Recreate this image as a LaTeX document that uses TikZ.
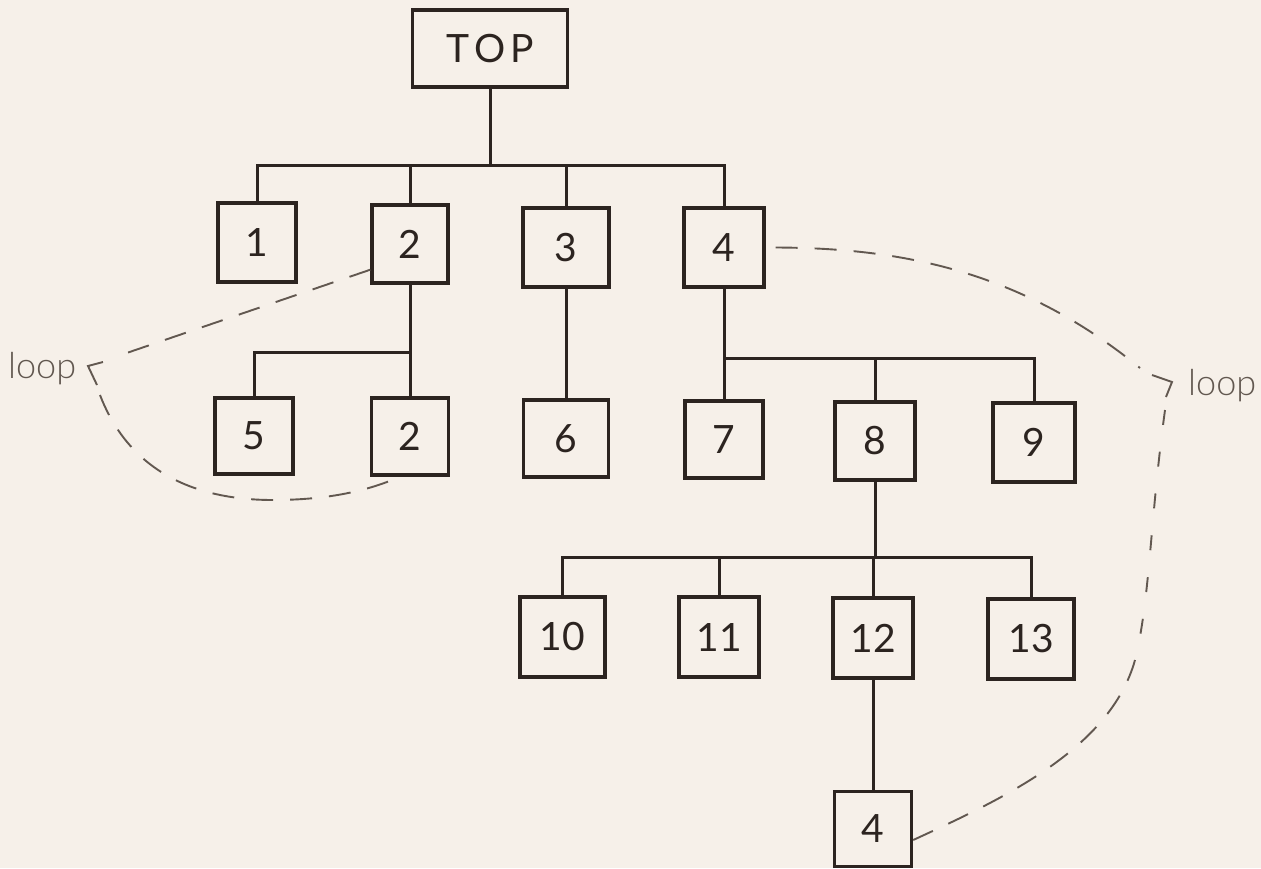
\documentclass[tikz,border=0pt]{standalone}
\usepackage{fontspec}
\newfontfamily\handfont{Lato}
\newfontfamily\thinfont{Lato Light}
\usetikzlibrary{calc}
\definecolor{paper}{RGB}{246,240,233}
\definecolor{ink}{RGB}{44,36,32}
\definecolor{pencil}{RGB}{98,88,80}
\begin{document}
\begin{tikzpicture}[x=1pt,y=-1pt,
  box/.style 2 args={draw=ink, line width=3.4pt, fill=paper, inner sep=0pt,
    minimum width=#1, minimum height=#2, text=ink,
    font=\handfont\fontsize{39}{42}\selectfont},
  tree/.style={draw=ink, line width=3pt},
  loopline/.style={draw=pencil, line width=1.9pt, dash pattern=on 22pt off 17pt},
  looptall/.style={draw=pencil, line width=1.9pt, dash pattern=on 15pt off 27pt},
  tick/.style={draw=pencil, line width=1.9pt},
  looplabel/.style={text=pencil, inner sep=0pt, font=\thinfont\fontsize{36}{40}\selectfont}]

\fill[paper] (0,0) rectangle (1261,868);
\useasboundingbox (0,0) rectangle (1261,868);

% root
\node[box={155pt}{77pt}] (top) at (490,48.5) {T\hspace{5pt}O\hspace{5pt}P};

% first level
\node[box={78pt}{79pt}] (n1) at (257,242.5) {1};
\node[box={76pt}{78pt}] (n2) at (410,244) {2};
\node[box={86pt}{79pt}] (n3) at (566,247.5) {3};
\node[box={80pt}{79pt}] (n4) at (724,247.5) {4};

% second level
\node[box={78pt}{76pt}] (n5) at (254,436) {5};
\node[box={77pt}{77pt}] (n2b) at (410,436.5) {2};
\node[box={85pt}{77pt}] (n6) at (566,438.5) {6};
\node[box={78pt}{77pt}] (n7) at (724,439.5) {7};
\node[box={80pt}{78pt}] (n8) at (875,441) {8};
\node[box={82pt}{79pt}] (n9) at (1034,442.5) {9};

% third level
\node[box={85pt}{80pt}] (n10) at (562.5,637) {10};
\node[box={80pt}{80pt}] (n11) at (719,637) {11};
\node[box={80pt}{80pt}] (n12) at (873,638) {12};
\node[box={86pt}{80pt}] (n13) at (1031,639) {13};

% fourth level
\node[box={77pt}{75pt}] (n4b) at (873,829) {4};

% junctions of the branch bars
\coordinate (j0) at (490,165);
\coordinate (j2) at (410,352);
\coordinate (j4) at (724,358);
\coordinate (j8) at (875,557);

% tree connectors
\draw[tree] (top.south) -- (j0);
\draw[tree] (n1.north) |- (j0) -| (n4.north);
\draw[tree] (n2.north) -- (n2.north |- j0);
\draw[tree] (n3.north) -- (n3.north |- j0);

\draw[tree] (n2.south) -- (n2b.north);
\draw[tree] (n5.north) |- (j2);
\draw[tree] (n3.south) -- (n6.north);

\draw[tree] (n4.south) -- (n7.north);
\draw[tree] (j4) -| (n9.north);
\draw[tree] (n8.north) -- (n8.north |- j4);

\draw[tree] (n8.south) -- (j8);
\draw[tree] (n10.north) |- (j8) -| (n13.north);
\draw[tree] (n11.north) -- (n11.north |- j8);
\draw[tree] (n12.north) -- (n12.north |- j8);
\draw[tree] (n12.south) -- (n4b.north);

% left loop: 2 back to 2
\coordinate (lA) at (112,358);
\coordinate (lB) at (100,395);
\draw[loopline] ([yshift=15pt]n2.south west) -- (lA);
\draw[tick] (103,362) -- (88,366) -- (97,385);
\draw[loopline] (lB) .. controls (125,460) and (180,500) .. (273,500)
  .. controls (330,500) and (370,490) .. ([xshift=-10pt]n2b.south);
\node[looplabel, anchor=base west] (loopL) at (8,378) {loop};

% right loop: 4 back to 4
\coordinate (rA) at (1140,368);
\coordinate (rB) at (1165,410);
\draw[loopline] ([xshift=10pt]n4.east) .. controls (900,248) and (1020,270) .. (rA);
\draw[tick] (1152,375) -- (1172,382) -- (1166,397);
\draw[looptall] (rB) .. controls (1150,520) and (1150,600) .. (1135,660);
\draw[loopline] (1135,660) .. controls (1110,750) and (1000,800) .. ([yshift=-11pt]n4b.east);
\node[looplabel, anchor=base west] (loopR) at (1188,395) {loop};

\end{tikzpicture}
\end{document}
